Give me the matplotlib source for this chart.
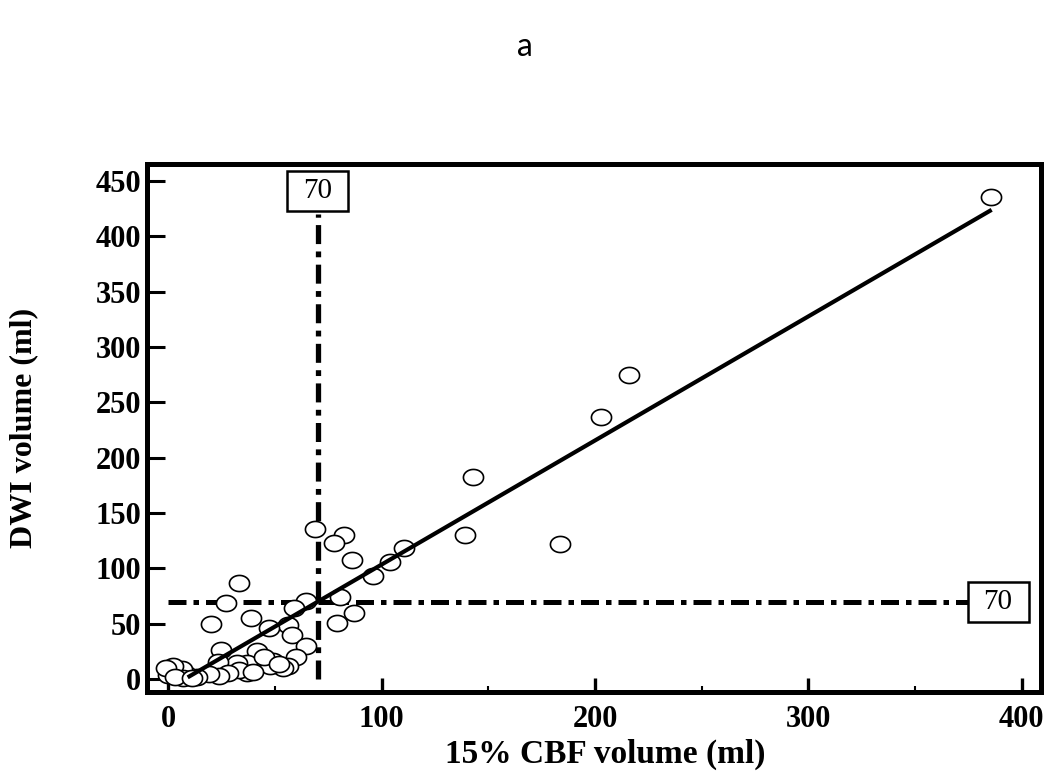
import matplotlib
matplotlib.use("Agg")
import matplotlib.pyplot as plt
import numpy as np
from matplotlib.path import Path
from matplotlib.ticker import MultipleLocator

# ---- data ----
cbf = [385.6, 215.8, 202.7, 142.7, 138.9, 183.5, 110.4, 103.9, 96.0, 85.9,
       82.3, 77.6, 68.7, 80.4, 87.0, 79.2, 64.5, 58.7, 56.2, 57.8,
       64.6, 59.7, 56.0, 49.0, 53.9, 44.5, 41.7, 36.7, 32.0, 36.7,
       33.3, 24.6, 23.4, 27.8, 23.6, 19.2, 13.3, 8.2, 6.2, 2.0,
       0.0, -1.2, 7.0, 3.1, 33.2, 27.0, 19.8, 38.6, 47.2, 10.9,
       47.5, 39.8, 45.0, 52.0]
dwi = [436.0, 274.7, 236.7, 182.5, 130.0, 122.0, 118.4, 106.0, 93.0, 107.5,
       130.0, 122.6, 135.5, 74.4, 59.9, 50.9, 70.3, 64.4, 48.5, 39.8,
       29.6, 20.2, 11.5, 16.5, 9.7, 14.7, 25.0, 14.2, 14.7, 5.1,
       8.1, 26.5, 15.2, 5.7, 3.0, 4.3, 1.8, 4.3, 8.9, 11.4,
       4.0, 9.7, 0.6, 2.0, 87.0, 69.0, 49.7, 54.8, 45.8, 0.6,
       12.0, 6.6, 20.0, 14.0]
fit_x = [9, 386]
fit_y = [1.5, 424]
threshold = 70
threshold_label = "70"
xticks = [0, 100, 200, 300, 400]
yticks = [0, 50, 100, 150, 200, 250, 300, 350, 400, 450]
xlabel = "15% CBF volume (ml)"
ylabel = "DWI volume (ml)"
title = "a"

serif = ["Liberation Serif", "DejaVu Serif"]


def wide_box(x0, y0, width, height, mutation_size):
    px = 0.55 * mutation_size
    py = 0.24 * mutation_size
    x0, y0 = x0 - px, y0 - py
    x1, y1 = x0 + width + 2 * px, y0 + height + 2 * py
    return Path([(x0, y0), (x1, y0), (x1, y1), (x0, y1), (x0, y0)],
                [Path.MOVETO, Path.LINETO, Path.LINETO, Path.LINETO, Path.CLOSEPOLY])


fig = plt.figure(figsize=(10.5, 7.8), dpi=100)
ax = fig.add_axes([146.7 / 1050, 1 - 692.3 / 780, (1040.7 - 146.7) / 1050, (692.3 - 164) / 780])
ax.set_xlim(-10.2, 409)
ax.set_ylim(-12, 465.4)

dash = (0, (3.6, 1.4, 1.1, 1.4))
ax.plot([threshold, threshold], [0, 420], color="black", lw=3.8, linestyle=dash,
        dash_capstyle="butt", zorder=2)
ax.plot([0, 376], [threshold, threshold], color="black", lw=3.6, linestyle=dash,
        dash_capstyle="butt", zorder=2)

t = np.linspace(0, 2 * np.pi, 73)
ellipse = Path(np.column_stack([np.cos(t), 0.8 * np.sin(t)]))
ax.plot(cbf, dwi, linestyle="none", marker=ellipse, markersize=14.5,
        markerfacecolor="white", markeredgecolor="black", markeredgewidth=1.2, zorder=3)

ax.plot(fit_x, fit_y, color="black", lw=3.0, solid_capstyle="butt", zorder=4)

box = dict(boxstyle=wide_box, fc="white", ec="black", lw=1.8)
ax.text(threshold, 441, threshold_label, ha="center", va="center", fontsize=21,
        family=serif, bbox=box, zorder=5)
ax.text(389, threshold, threshold_label, ha="center", va="center", fontsize=21,
        family=serif, bbox=box, zorder=5)

for s in ax.spines.values():
    s.set_linewidth(3.6)

ax.set_xticks(xticks)
ax.set_yticks(yticks)
ax.xaxis.set_minor_locator(MultipleLocator(50))
ax.tick_params(axis="x", which="major", direction="in", length=10, width=2.4, pad=9)
ax.tick_params(axis="x", which="minor", direction="in", length=4, width=1.5)
ax.tick_params(axis="y", which="major", direction="in", length=13, width=2.2, pad=4)
ax.tick_params(top=False, right=False)
for lab in ax.get_xticklabels() + ax.get_yticklabels():
    lab.set_fontfamily(serif)
    lab.set_fontweight("bold")
    lab.set_fontsize(22)

ax.set_xlabel(xlabel, fontsize=24, fontweight="bold", family=serif)
ax.set_ylabel(ylabel, fontsize=23, fontweight="bold", family=serif)
ax.yaxis.set_label_coords((38 - 146.7) / 894.0, 0.5)
ax.xaxis.set_label_coords(0.513, (692.3 - 739) / 528.3)

fig.text(0.5, 1 - 47 / 780, title, ha="center", va="center", fontsize=23,
         family=["Lato", "DejaVu Sans"])

fig.savefig("out.png", dpi=100)
